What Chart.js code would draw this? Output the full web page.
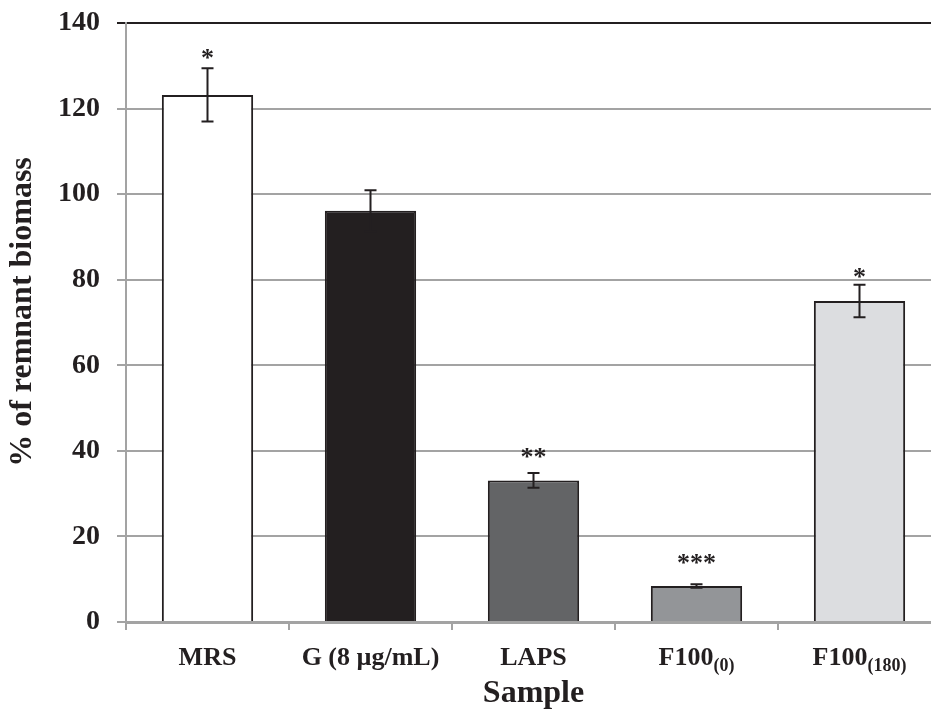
<!DOCTYPE html>
<html>
<head>
<meta charset="utf-8">
<script src="https://cdn.jsdelivr.net/npm/chart.js@4.4.1/dist/chart.umd.min.js"></script>
<style>
  html, body { margin: 0; padding: 0; overflow: hidden; background: #fff; }
</style>
</head>
<body>
<canvas id="chart" width="960" height="710"></canvas>
<script>
// data
const samples = ['MRS', 'G (8 µg/mL)', 'LAPS', 'F100', 'F100'];
const sampleSubs = ['', '', '', '(0)', '(180)'];
const biomass = [123.2, 96.1, 33.1, 8.4, 75.0];
const biomassErr = [6.2, 4.8, 1.7, 0.4, 3.8];
const signif = ['*', '', '**', '***', '*'];
const yTicks = [0, 20, 40, 60, 80, 100, 120, 140];
const yTitle = '% of remnant biomass';

const SERIF = '"Liberation Serif", "Times New Roman", serif';
const INK = '#231f20';
const GRID = '#a3a3a3';
const barColors = ['#ffffff', '#231f20', '#636466', '#939598', '#dcdde0'];
// gap (px) between error bar top and the significance stars
const starGap = [16, 0, 22, 27, 14];

const barExtras = {
  id: 'barExtras',
  afterDatasetsDraw(chart) {
    const { ctx, scales: { x, y } } = chart;
    ctx.save();
    ctx.strokeStyle = INK;
    ctx.lineWidth = 2;
    biomass.forEach((v, i) => {
      const cx = x.getPixelForValue(i);
      const top = y.getPixelForValue(v + biomassErr[i]);
      const bot = y.getPixelForValue(v - biomassErr[i]);
      ctx.beginPath();
      ctx.moveTo(cx, top); ctx.lineTo(cx, bot);
      ctx.moveTo(cx - 6, top); ctx.lineTo(cx + 6, top);
      ctx.moveTo(cx - 6, bot); ctx.lineTo(cx + 6, bot);
      ctx.stroke();
      if (signif[i]) {
        ctx.fillStyle = INK;
        ctx.font = `bold 26px ${SERIF}`;
        ctx.textAlign = 'center';
        ctx.textBaseline = 'alphabetic';
        ctx.fillText(signif[i], cx, top - starGap[i] + 14);
      }
    });

    // category labels with subscripts
    const baseY = 665;
    samples.forEach((lab, i) => {
      const cx = x.getPixelForValue(i);
      ctx.font = `bold 26px ${SERIF}`;
      const w1 = ctx.measureText(lab).width;
      ctx.font = `bold 18px ${SERIF}`;
      const w2 = sampleSubs[i] ? ctx.measureText(sampleSubs[i]).width : 0;
      const start = cx - (w1 + w2) / 2;
      ctx.fillStyle = INK;
      ctx.textAlign = 'left';
      ctx.textBaseline = 'alphabetic';
      ctx.font = `bold 26px ${SERIF}`;
      ctx.fillText(lab, start, baseY);
      if (sampleSubs[i]) {
        ctx.font = `bold 18px ${SERIF}`;
        ctx.fillText(sampleSubs[i], start + w1, baseY + 6);
      }
    });

    // y axis title
    ctx.translate(23, 312);
    ctx.rotate(-Math.PI / 2);
    ctx.font = `bold 32px ${SERIF}`;
    ctx.textAlign = 'center';
    ctx.textBaseline = 'middle';
    ctx.fillStyle = INK;
    ctx.fillText(yTitle, 0, 0);
    ctx.restore();
  }
};

new Chart(document.getElementById('chart'), {
  type: 'bar',
  data: {
    labels: samples.map((s, i) => s + sampleSubs[i]),
    datasets: [{
      data: biomass,
      backgroundColor: barColors,
      borderColor: INK,
      borderWidth: 2,
      categoryPercentage: 1,
      barPercentage: 0.56
    }]
  },
  options: {
    responsive: false,
    animation: false,
    layout: { padding: { top: 23, right: 19, left: 0, bottom: 0 } },
    plugins: { legend: { display: false }, tooltip: { enabled: false } },
    scales: {
      x: {
        z: 1,
        grid: {
          offset: true,
          drawOnChartArea: false,
          drawTicks: true,
          tickLength: 8,
          color: GRID,
          lineWidth: 2
        },
        border: { color: GRID, width: 3 },
        ticks: { display: false },
        title: {
          display: true,
          text: 'Sample',
          color: INK,
          font: { family: SERIF, size: 32, weight: 'bold' },
          padding: { top: 0, bottom: -3 }
        },
        afterFit: (s) => { s.height = 88; s.paddingLeft = 0; s.paddingRight = 0; }
      },
      y: {
        min: 0,
        max: 140,
        afterBuildTicks: (s) => { s.ticks = yTicks.map((v) => ({ value: v })); },
        grid: {
          color: (c) => (c.tick && c.tick.value === 140 ? INK : GRID),
          lineWidth: 2,
          tickLength: 9
        },
        border: { color: GRID, width: 2 },
        ticks: {
          color: INK,
          padding: 17,
          font: { family: SERIF, size: 28, weight: 'bold' }
        },
        afterFit: (s) => { s.width = 126; s.paddingTop = 0; s.paddingBottom = 0; }
      }
    }
  },
  plugins: [barExtras]
});
</script>
</body>
</html>
